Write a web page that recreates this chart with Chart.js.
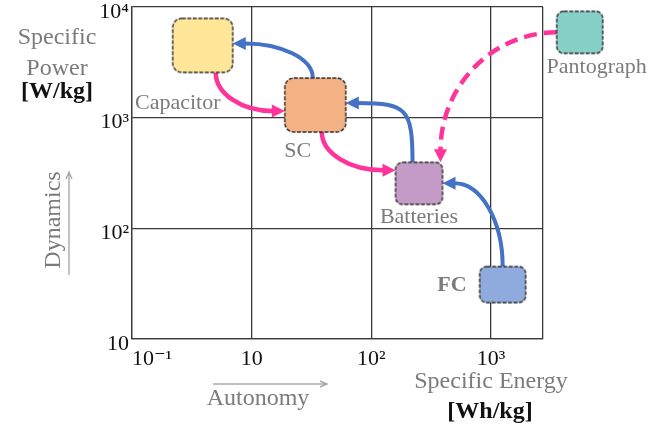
<!DOCTYPE html>
<html>
<head>
<meta charset="utf-8">
<script src="https://cdn.jsdelivr.net/npm/chart.js@4/dist/chart.umd.min.js"></script>
<style>
  html, body { margin: 0; padding: 0; background: #fff; }
  #wrap { width: 664px; height: 428px; position: relative; }
</style>
</head>
<body>
<div id="wrap"><canvas id="chart"></canvas></div>
<script>
// Energy sources on a Ragone-type plane (log-log)
const sources = ['Capacitor', 'SC', 'Batteries', 'FC', 'Pantograph'];
const specificEnergy = [3.9, 34, 250, 1250, 5500];   // Wh/kg
const specificPower  = [4500, 1300, 255, 31, 5900];  // W/kg

// Axis ticks
const xTickValues = [1, 10, 100, 1000];
const xTickLabels = ['10⁻¹', '10', '10²', '10³'];
const xMax = 2715;
const yTickValues = [10, 100, 1000, 10000];
const yTickLabels = ['10', '10²', '10³', '10⁴'];

// Power flows between sources
const flowFrom = ['Capacitor', 'SC', 'SC', 'Batteries', 'FC', 'Pantograph'];
const flowTo   = ['SC', 'Capacitor', 'Batteries', 'SC', 'Batteries', 'Batteries'];

// ---- styling ----
const FONT = "'Liberation Serif', 'DejaVu Serif', serif";
const GREY_TEXT = '#7b7b7b';
const BLUE = '#4472C4';
const PINK = '#FF3399';
const GRID = '#3a3a3a';

const boxLook = [
  { w: 60, h: 54, r: 9, fill: '#FFE699', label: { dx: -25, dy: 64, align: 'center' } },
  { w: 61, h: 54, r: 9, fill: '#F4B183', label: { dx: -17.5, dy: 52, align: 'center' } },
  { w: 47, h: 42, r: 7, fill: '#C39BC6', label: { dx: 0, dy: 40, align: 'center' } },
  { w: 46, h: 36, r: 7, fill: '#8FAADC', label: { dx: -36, dy: 6, align: 'right', bold: true } },
  { w: 46, h: 42, r: 7, fill: '#86D0C8', label: { dx: 17, dy: 41, align: 'center' } }
];

// side of the box each arrow leaves / enters, with an offset along that side
const flowLook = [
  { color: PINK, width: 4.5, from: ['bottom', 13],  to: ['left', 6] },
  { color: BLUE, width: 4,   from: ['top', -2.5],   to: ['right', -2] },
  { color: PINK, width: 4.5, from: ['bottom', 6.5], to: ['left', -13] },
  { color: BLUE, width: 4,   from: ['top', -6.5],   to: ['right', -2], bend: 0.9 },
  { color: BLUE, width: 4,   from: ['top', 0],      to: ['right', 0] },
  { color: PINK, width: 4.5, from: ['left', 0],     to: ['top', 21.5], dash: [13, 7] }
];

function boxImage(look) {
  const pad = 2;
  const c = document.createElement('canvas');
  c.width = look.w + pad * 2;
  c.height = look.h + pad * 2;
  const g = c.getContext('2d');
  g.beginPath();
  g.roundRect(pad, pad, look.w, look.h, look.r);
  g.fillStyle = look.fill;
  g.fill();
  g.setLineDash([4, 1.5]);
  g.lineWidth = 1.4;
  g.strokeStyle = '#2a2a2a';
  g.stroke();
  return c;
}

function boxCenter(chart, i) {
  return {
    x: chart.scales.x.getPixelForValue(specificEnergy[i]),
    y: chart.scales.y.getPixelForValue(specificPower[i])
  };
}

function anchor(c, look, side, off) {
  const hw = look.w / 2, hh = look.h / 2;
  switch (side) {
    case 'top':    return { x: c.x + off, y: c.y - hh, nx: 0, ny: -1 };
    case 'bottom': return { x: c.x + off, y: c.y + hh, nx: 0, ny: 1 };
    case 'left':   return { x: c.x - hw, y: c.y + off, nx: -1, ny: 0 };
    default:       return { x: c.x + hw, y: c.y + off, nx: 1, ny: 0 };
  }
}

// curved arrows between the boxes
const flowPlugin = {
  id: 'flows',
  beforeDatasetsDraw(chart) {
    const ctx = chart.ctx;
    const headLen = 12, headHalf = 6.5;
    flowFrom.forEach((name, k) => {
      const a = sources.indexOf(name), b = sources.indexOf(flowTo[k]);
      const st = flowLook[k];
      const p0 = anchor(boxCenter(chart, a), boxLook[a], st.from[0], st.from[1]);
      const tip = anchor(boxCenter(chart, b), boxLook[b], st.to[0], st.to[1]);
      const p3 = { x: tip.x + tip.nx * headLen, y: tip.y + tip.ny * headLen };
      const dx = p3.x - p0.x, dy = p3.y - p0.y;
      const kb = st.bend || 0.55;
      const l0 = Math.abs(dx * p0.nx + dy * p0.ny) * kb;
      const l3 = Math.abs(dx * tip.nx + dy * tip.ny) * kb;
      ctx.save();
      ctx.strokeStyle = st.color;
      ctx.fillStyle = st.color;
      ctx.lineWidth = st.width;
      ctx.lineCap = 'butt';
      ctx.setLineDash(st.dash || []);
      ctx.beginPath();
      ctx.moveTo(p0.x, p0.y);
      ctx.bezierCurveTo(p0.x + p0.nx * l0, p0.y + p0.ny * l0,
                        p3.x + tip.nx * l3, p3.y + tip.ny * l3,
                        p3.x, p3.y);
      ctx.stroke();
      ctx.setLineDash([]);
      // head
      const px = -tip.ny, py = tip.nx;
      ctx.beginPath();
      ctx.moveTo(tip.x, tip.y);
      ctx.lineTo(p3.x + px * headHalf + tip.nx * 1, p3.y + py * headHalf + tip.ny * 1);
      ctx.lineTo(p3.x - px * headHalf + tip.nx * 1, p3.y - py * headHalf + tip.ny * 1);
      ctx.closePath();
      ctx.fill();
      ctx.restore();
    });
  }
};

function arrowLine(ctx, x1, y1, x2, y2) {
  const ang = Math.atan2(y2 - y1, x2 - x1);
  ctx.beginPath();
  ctx.moveTo(x1, y1);
  ctx.lineTo(x2, y2);
  ctx.moveTo(x2 - 7 * Math.cos(ang) + 3 * Math.sin(ang), y2 - 7 * Math.sin(ang) - 3 * Math.cos(ang));
  ctx.lineTo(x2, y2);
  ctx.lineTo(x2 - 7 * Math.cos(ang) - 3 * Math.sin(ang), y2 - 7 * Math.sin(ang) + 3 * Math.cos(ang));
  ctx.stroke();
}

// box captions and axis titles
const textPlugin = {
  id: 'texts',
  afterDatasetsDraw(chart) {
    const ctx = chart.ctx;
    ctx.save();
    ctx.textBaseline = 'alphabetic';
    sources.forEach((name, i) => {
      const c = boxCenter(chart, i);
      const lb = boxLook[i].label;
      ctx.font = (lb.bold ? 'bold ' : '') + '22px ' + FONT;
      ctx.fillStyle = GREY_TEXT;
      ctx.textAlign = lb.align;
      ctx.fillText(name, c.x + lb.dx, c.y + lb.dy);
    });

    // vertical axis title
    ctx.textAlign = 'center';
    ctx.fillStyle = GREY_TEXT;
    ctx.font = '24px ' + FONT;
    ctx.fillText('Specific', 57, 44);
    ctx.fillText('Power', 57, 75);
    ctx.fillStyle = '#111';
    ctx.font = 'bold 24px ' + FONT;
    ctx.fillText('[W/kg]', 57, 98);

    // horizontal axis title
    ctx.fillStyle = GREY_TEXT;
    ctx.font = '24px ' + FONT;
    ctx.fillText('Specific Energy', 491, 388);
    ctx.fillStyle = '#111';
    ctx.font = 'bold 24px ' + FONT;
    ctx.fillText('[Wh/kg]', 490, 418);

    // Autonomy / Dynamics hints
    ctx.fillStyle = GREY_TEXT;
    ctx.font = '24px ' + FONT;
    ctx.fillText('Autonomy', 258, 405);
    ctx.save();
    ctx.translate(60, 220);
    ctx.rotate(-Math.PI / 2);
    ctx.fillText('Dynamics', 0, 0);
    ctx.restore();

    ctx.strokeStyle = '#ababab';
    ctx.lineWidth = 1.4;
    arrowLine(ctx, 213, 384, 327, 384);
    arrowLine(ctx, 69, 275, 69, 172);
    ctx.restore();
  }
};

const chart = new Chart(document.getElementById('chart'), {
  type: 'scatter',
  data: {
    datasets: [{
      data: sources.map((s, i) => ({ x: specificEnergy[i], y: specificPower[i] })),
      pointStyle: boxLook.map(boxImage),
      pointRadius: 50,
      pointHoverRadius: 50,
      clip: false
    }]
  },
  options: {
    responsive: true,
    maintainAspectRatio: false,
    animation: false,
    events: [],
    layout: { autoPadding: false, padding: { left: 0, top: 7, right: 121, bottom: 0 } },
    plugins: { legend: { display: false }, tooltip: { enabled: false } },
    scales: {
      x: {
        type: 'logarithmic',
        position: 'bottom',
        min: 1,
        max: xMax,
        afterBuildTicks: s => { s.ticks = xTickValues.concat([xMax]).map(v => ({ value: v })); },
        afterFit: s => { s.height = 89; s.paddingLeft = 0; s.paddingRight = 0; },
        ticks: {
          autoSkip: false, maxRotation: 0, minRotation: 0,
          align: 'inner', padding: 7, color: '#111',
          font: { family: FONT, size: 22 },
          callback: (v, i) => (i < xTickLabels.length ? xTickLabels[i] : '')
        },
        grid: { color: GRID, lineWidth: 1.3, drawTicks: false },
        border: { color: GRID, width: 1.3 }
      },
      y: {
        type: 'logarithmic',
        min: 10,
        max: 10000,
        afterBuildTicks: s => { s.ticks = yTickValues.map(v => ({ value: v })); },
        afterFit: s => { s.width = 132; s.paddingTop = 0; s.paddingBottom = 0; },
        ticks: {
          autoSkip: false, padding: 3, color: '#111',
          font: { family: FONT, size: 22, lineHeight: '10px' },
          callback: (v, i) => ['', yTickLabels[i]]
        },
        grid: { color: GRID, lineWidth: 1.3, drawTicks: false },
        border: { color: GRID, width: 1.3 }
      }
    }
  },
  plugins: [flowPlugin, textPlugin]
});
</script>
</body>
</html>
